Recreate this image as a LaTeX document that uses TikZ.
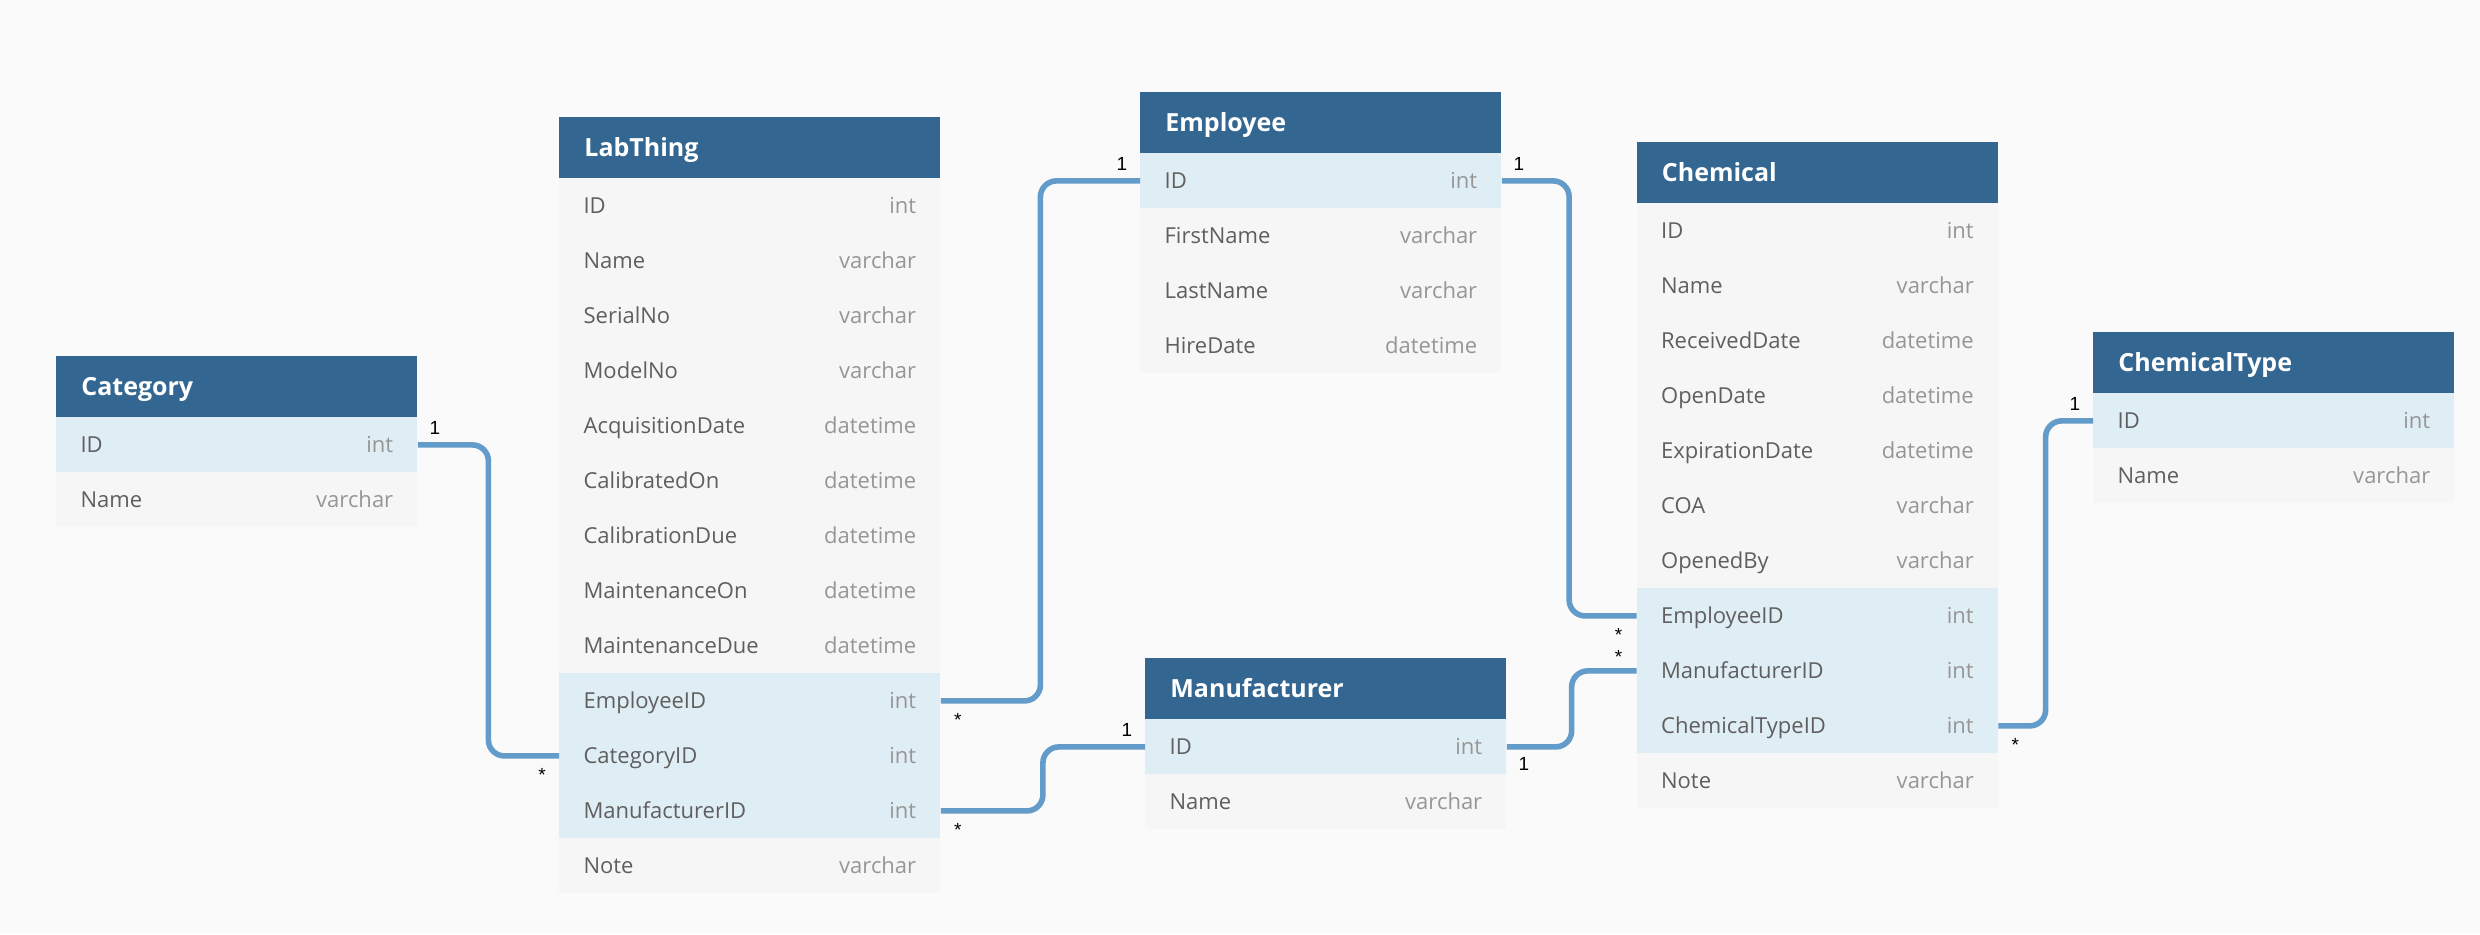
\documentclass[tikz,border=0pt]{standalone}
\usepackage{fontspec}
\setmainfont{Open Sans}
\newfontfamily\cardfont{Liberation Sans}
\usetikzlibrary{positioning,calc}

\definecolor{bg}{RGB}{250,250,250}
\definecolor{headblue}{RGB}{51,103,145}
\definecolor{rowgray}{RGB}{246,246,246}
\definecolor{keyblue}{RGB}{223,237,245}
\definecolor{fieldgray}{RGB}{95,95,95}
\definecolor{typegray}{RGB}{150,150,150}
\definecolor{relblue}{RGB}{99,155,202}

\tikzset{
  tablehead/.style={anchor=north west, fill=headblue, text=white,
    font=\fontsize{12.5}{15}\selectfont\bfseries, text width=#1,
    minimum height=30.5pt, inner xsep=12.5pt, inner ysep=0pt,
    text height=8.9pt, text depth=0pt},
  field/.style={anchor=north west, fill=rowgray, text=fieldgray,
    font=\fontsize{11}{13}\selectfont, text width=#1,
    minimum height=27.5pt, inner xsep=12.1pt, inner ysep=0pt,
    text height=7.9pt, text depth=0pt},
  card/.style={anchor=base, inner sep=0pt,
    font=\cardfont\fontsize{9.5}{11}\selectfont},
  rel/.style={draw=relblue, line width=2.8pt, rounded corners=8pt},
  fk/.style={to path={-| ($(\tikztostart)!.5!(\tikztotarget)$) |- (\tikztotarget)}}
}

\begin{document}
\begin{tikzpicture}[x=0.5pt,y=-0.5pt]
  \fill[bg] (0,0) rectangle (2480,934);
  \useasboundingbox (0,0) rectangle (2480,934);

  % tables
  \node[tablehead=155.5pt] (category) at (56,356) {Category};
  \foreach \n/\t/\s [count=\i from 0] in {ID/int/keyblue, Name/varchar/rowgray}
    \node[field=156.3pt, fill=\s] (category-\n) at (56,{417+\i*55}) {\n\hfill\textcolor{typegray}{\t}};

  \node[tablehead=165.5pt] (labthing) at (559,117) {LabThing};
  \foreach \n/\t/\s [count=\i from 0] in {ID/int/rowgray, Name/varchar/rowgray,
      SerialNo/varchar/rowgray, ModelNo/varchar/rowgray,
      AcquisitionDate/datetime/rowgray, CalibratedOn/datetime/rowgray,
      CalibrationDue/datetime/rowgray, MaintenanceOn/datetime/rowgray,
      MaintenanceDue/datetime/rowgray, EmployeeID/int/keyblue,
      CategoryID/int/keyblue, ManufacturerID/int/keyblue, Note/varchar/rowgray}
    \node[field=166.3pt, fill=\s] (labthing-\n) at (559,{178+\i*55}) {\n\hfill\textcolor{typegray}{\t}};

  \node[tablehead=155.5pt] (employee) at (1140,92) {Employee};
  \foreach \n/\t/\s [count=\i from 0] in {ID/int/keyblue, FirstName/varchar/rowgray,
      LastName/varchar/rowgray, HireDate/datetime/rowgray}
    \node[field=156.3pt, fill=\s] (employee-\n) at (1140,{153+\i*55}) {\n\hfill\textcolor{typegray}{\t}};

  \node[tablehead=155.5pt] (manufacturer) at (1145,658) {Manufacturer};
  \foreach \n/\t/\s [count=\i from 0] in {ID/int/keyblue, Name/varchar/rowgray}
    \node[field=156.3pt, fill=\s] (manufacturer-\n) at (1145,{719+\i*55}) {\n\hfill\textcolor{typegray}{\t}};

  \node[tablehead=155.5pt] (chemical) at (1636.5,142) {Chemical};
  \foreach \n/\t/\s [count=\i from 0] in {ID/int/rowgray, Name/varchar/rowgray,
      ReceivedDate/datetime/rowgray, OpenDate/datetime/rowgray,
      ExpirationDate/datetime/rowgray, COA/varchar/rowgray,
      OpenedBy/varchar/rowgray, EmployeeID/int/keyblue,
      ManufacturerID/int/keyblue, ChemicalTypeID/int/keyblue, Note/varchar/rowgray}
    \node[field=156.3pt, fill=\s] (chemical-\n) at (1636.5,{203+\i*55}) {\n\hfill\textcolor{typegray}{\t}};

  \node[tablehead=155.5pt] (chemicaltype) at (2093,332) {ChemicalType};
  \foreach \n/\t/\s [count=\i from 0] in {ID/int/keyblue, Name/varchar/rowgray}
    \node[field=156.3pt, fill=\s] (chemicaltype-\n) at (2093,{393+\i*55}) {\n\hfill\textcolor{typegray}{\t}};

  % relations
  \draw[rel] (category-ID.east) to[fk] (labthing-CategoryID.west);
  \draw[rel] (labthing-EmployeeID.east) to[fk] (employee-ID.west);
  \draw[rel] (labthing-ManufacturerID.east) to[fk] (manufacturer-ID.west);
  \draw[rel] (employee-ID.east) to[fk] (chemical-EmployeeID.west);
  \draw[rel] (manufacturer-ID.east) to[fk] (chemical-ManufacturerID.west);
  \draw[rel] (chemical-ChemicalTypeID.east) to[fk] (chemicaltype-ID.west);

  % cardinalities
  \node[card] (cat-one) at ($(category-ID.east)+(17,-10)$) {1};
  \node[card] (lab-cat-many) at ($(labthing-CategoryID.west)+(-17,26)$) {*};
  \node[card] (lab-emp-many) at ($(labthing-EmployeeID.east)+(17,26)$) {*};
  \node[card] (emp-one-l) at ($(employee-ID.west)+(-18,-10)$) {1};
  \node[card] (lab-man-many) at ($(labthing-ManufacturerID.east)+(17,26)$) {*};
  \node[card] (man-one-l) at ($(manufacturer-ID.west)+(-18,-10)$) {1};
  \node[card] (emp-one-r) at ($(employee-ID.east)+(17,-10)$) {1};
  \node[card] (chem-emp-many) at ($(chemical-EmployeeID.west)+(-18,26)$) {*};
  \node[card] (man-one-r) at ($(manufacturer-ID.east)+(17,24)$) {1};
  \node[card] (chem-man-many) at ($(chemical-ManufacturerID.west)+(-18,-7)$) {*};
  \node[card] (chem-type-many) at ($(chemical-ChemicalTypeID.east)+(17,26)$) {*};
  \node[card] (type-one) at ($(chemicaltype-ID.west)+(-18,-10)$) {1};
\end{tikzpicture}
\end{document}
